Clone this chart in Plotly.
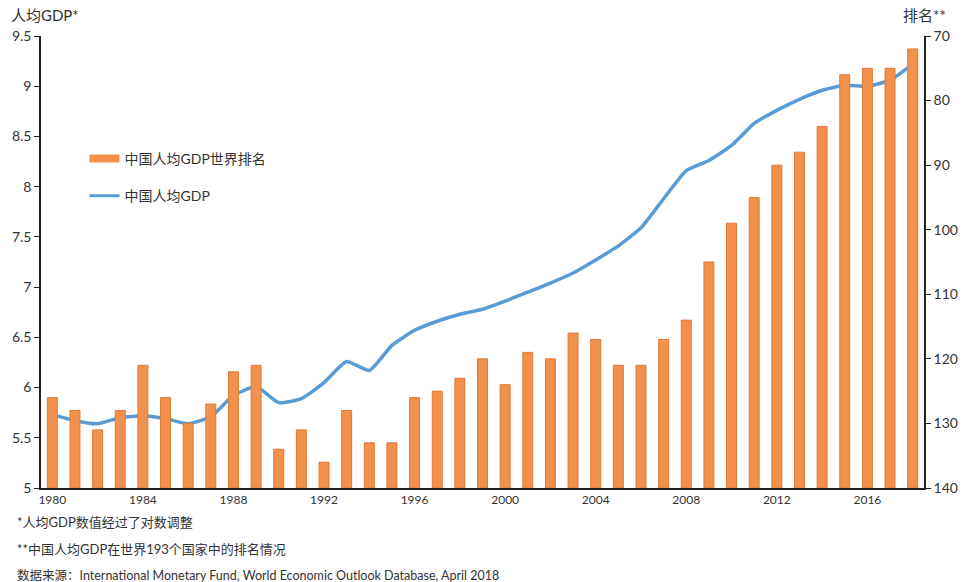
import plotly.graph_objects as go

years = list(range(1980, 2019))
gdp_log = [5.73, 5.67, 5.64, 5.70, 5.72, 5.69, 5.64, 5.71, 5.92, 6.01,
           5.85, 5.89, 6.05, 6.26, 6.17, 6.42, 6.57, 6.66, 6.73, 6.78,
           6.86, 6.95, 7.04, 7.14, 7.27, 7.41, 7.59, 7.88, 8.16, 8.26,
           8.41, 8.63, 8.76, 8.87, 8.96, 9.01, 9.00, 9.06, 9.22]
rank = [126, 128, 131, 128, 121, 126, 130, 127, 122, 121,
        134, 131, 136, 128, 133, 133, 126, 125, 123, 120,
        124, 119, 120, 116, 117, 121, 121, 117, 114, 105,
        99, 95, 90, 88, 84, 76, 75, 75, 72]
xtick_vals = [1980, 1984, 1988, 1992, 1996, 2000, 2004, 2008, 2012, 2016]
left_ticks = [5, 5.5, 6, 6.5, 7, 7.5, 8, 8.5, 9, 9.5]
right_ticks = [70, 80, 90, 100, 110, 120, 130, 140]
rank_floor = 140

bar_name = "中国人均GDP世界排名"
line_name = "中国人均GDP"
left_title = "人均GDP*"
right_title = "排名**"
notes = ["*人均GDP数值经过了对数调整",
         "**中国人均GDP在世界193个国家中的排名情况",
         "数据来源：International Monetary Fund, World Economic Outlook Database, April 2018"]

ORANGE = "#F2914C"
ORANGE_EDGE = "#E07A36"
BLUE = "#5B9BD5"
FONT = "Lato, 'Noto Sans CJK SC', sans-serif"
TXT = "#333333"

fig = go.Figure()
fig.add_trace(go.Bar(x=years, y=[r - rank_floor for r in rank], base=rank_floor,
                     yaxis="y2", name=bar_name,
                     customdata=rank, hovertemplate="%{x}: %{customdata}<extra></extra>",
                     marker=dict(color=ORANGE, line=dict(color=ORANGE_EDGE, width=1)),
                     showlegend=False))
fig.add_trace(go.Scatter(x=years, y=gdp_log, mode="lines", name=line_name,
                         line=dict(color=BLUE, width=3.5, shape="spline", smoothing=0.5),
                         showlegend=False))
# legend entries
fig.add_trace(go.Scatter(x=[None], y=[None], mode="lines", name=bar_name,
                         line=dict(color=ORANGE, width=8), legendgroup="a"))
fig.add_trace(go.Scatter(x=[None], y=[None], mode="lines", name=line_name,
                         line=dict(color=BLUE, width=3), legendgroup="b"))

L, R, T, B = 41, 36, 36, 94
W, H = 970, 582
pw, ph = W - L - R, H - T - B

def px(x):
    return (x - L) / pw

def py(y):
    return (H - B - y) / ph

fig.update_layout(
    width=W, height=H,
    margin=dict(l=L, r=R, t=T, b=B),
    paper_bgcolor="white", plot_bgcolor="white",
    font=dict(family=FONT, size=13, color=TXT),
    bargap=0.56,
    xaxis=dict(range=[1979.5, 2018.5], tickvals=xtick_vals,
               ticktext=[str(v) for v in xtick_vals],
               showgrid=False, showline=True, linecolor="#222", linewidth=1.5,
               ticks="", tickfont=dict(size=12), zeroline=False),
    yaxis=dict(range=[5, 9.5], tickvals=left_ticks, showgrid=False,
               showline=True, linecolor="#222", linewidth=1.5,
               ticks="outside", ticklen=5, tickcolor="#222",
               tickfont=dict(size=14), zeroline=False),
    yaxis2=dict(range=[140, 70], tickvals=right_ticks, overlaying="y",
                side="right", showgrid=False, showline=True,
                linecolor="#222", linewidth=1.5, ticks="outside",
                ticklen=5, tickcolor="#222", tickfont=dict(size=14),
                zeroline=False),
    legend=dict(x=px(85), y=py(143), xanchor="left", yanchor="top",
                font=dict(size=14, color=TXT), bgcolor="rgba(0,0,0,0)",
                tracegroupgap=16, itemwidth=30),
    showlegend=True,
)

fig.add_annotation(text=left_title, xref="paper", yref="paper",
                   x=px(9), y=py(15), xanchor="left", yanchor="middle",
                   showarrow=False, font=dict(size=15, color=TXT))
fig.add_annotation(text=right_title, xref="paper", yref="paper",
                   x=px(958), y=py(15), xanchor="right", yanchor="middle",
                   showarrow=False, font=dict(size=15, color=TXT))
for i, (t, yy) in enumerate(zip(notes, [522, 549, 575])):
    fig.add_annotation(text=t, xref="paper", yref="paper",
                       x=px(15), y=py(yy), xanchor="left", yanchor="middle",
                       showarrow=False, font=dict(size=13 if i < 2 else 12.5, color=TXT))

fig.write_html("out.html")
